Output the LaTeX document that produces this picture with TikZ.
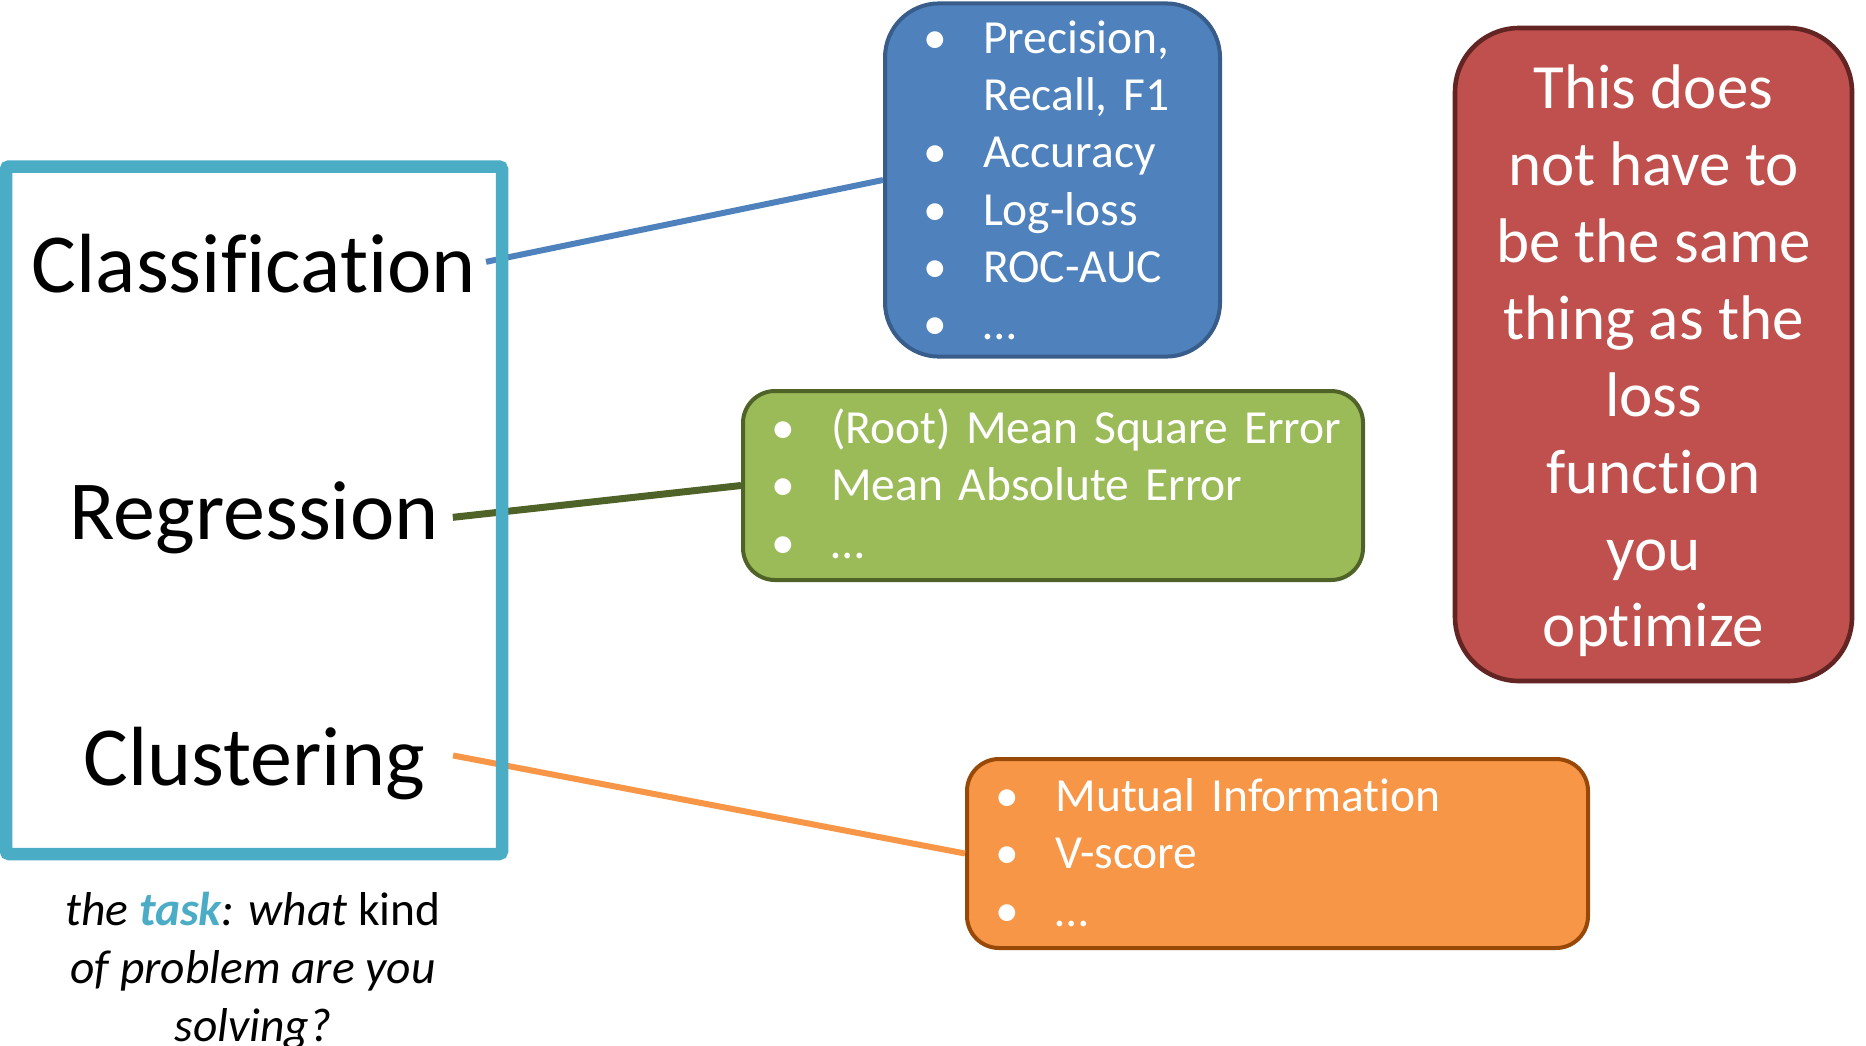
\documentclass[tikz,border=0pt]{standalone}
\usepackage{fontspec}
\setmainfont{Carlito}[Ligatures=NoCommon]
\usepackage{tikz}
\usepackage{color}

\definecolor{taskteal}{HTML}{4BACC6}
\definecolor{clsfill}{HTML}{4F81BD}
\definecolor{clsline}{HTML}{385D8A}
\definecolor{regfill}{HTML}{9BBB59}
\definecolor{regline}{HTML}{4F6228}
\definecolor{clufill}{HTML}{F79646}
\definecolor{cluline}{HTML}{984807}
\definecolor{notefill}{HTML}{C0504D}
\definecolor{noteline}{HTML}{632523}

\newcommand{\listsize}{\fontsize{23.75pt}{28.6pt}\selectfont}
\newcommand{\metric}[1]{\makebox[30pt][l]{\textbullet}\mbox{#1}\strut}
\newcommand{\nobullet}[1]{\hspace*{30pt}\mbox{#1}\strut}

\begin{document}
\begin{tikzpicture}[x=0.5pt,y=-0.5pt,
		task/.style={font=\fontsize{42pt}{50pt}\selectfont, inner sep=0pt, anchor=base},
		metricbox/.style={draw, line width=2pt, rounded corners=#1, text=white, align=left, font=\listsize, inner ysep=0pt}]
			\useasboundingbox (0,0) rectangle (1866,1045);
			\node [task] (cls) at (254,292.7) {Classification};
			\node [task] (reg) at (254,539) {Regression};
			\node [task] (clu) at (254,785.4) {Clustering};
			\node [font=\fontsize{23.75pt}{28.9pt}\selectfont, align=center, inner sep=0pt, anchor=north] (cap) at (253,885) {\strut\textit{the \textbf{\color{taskteal}task}: what} kind\\\textit{of problem are you}\\\textit{solving?}};
			\node [metricbox=27pt, draw=clsline, fill=clsfill, text width=129.5pt, inner xsep=19pt, minimum height=175pt] (clsm) at (1052.5,180) {\rule{0pt}{25pt}\metric{Precision,}\\\nobullet{Recall, F1}\\\metric{Accuracy}\\\metric{Log-loss}\\\metric{ROC-AUC}\\\metric{…}};
			\node [metricbox=16pt, draw=regline, fill=regfill, text width=282pt, inner xsep=14pt, minimum height=94.5pt] (regm) at (1053,485.5) {\rule{0pt}{24pt}\metric{(Root) Mean Square Error}\\\metric{Mean Absolute Error}\\\metric{…}};
			\node [metricbox=16pt, draw=cluline, fill=clufill, text width=282pt, inner xsep=14.25pt, minimum height=94.5pt] (clum) at (1277.5,853.5) {\rule{0pt}{24pt}\metric{Mutual Information}\\\metric{V-score}\\\metric{…}};
			\node [draw=noteline, fill=notefill, line width=2.3pt, rounded corners=32pt, text=white, align=center, font=\fontsize{31.5pt}{38.43pt}\selectfont, minimum width=198.5pt, minimum height=326.5pt, inner sep=0pt] (note) at (1653.5,354.5) {\rule{0pt}{35pt}This does\\not have to\\be the same\\thing as the\\loss\\function\\you\\optimize\strut};
			\draw [line width=3pt, clsfill] ([xshift=4.75pt,yshift=1pt]cls.east) -- (clsm.west);
			\draw [line width=3.5pt, regline] ([xshift=7pt]reg.east) -- (regm.west);
			\draw [line width=3pt, clufill] ([xshift=14pt,yshift=4pt]clu.east) -- (clum.west);
			\node [draw=taskteal, line width=6.25pt, rounded corners=1.5pt, minimum width=248pt, minimum height=343.75pt, inner sep=0pt] (tasks) at (254,510.25) {};
		\end{tikzpicture}
\end{document}
